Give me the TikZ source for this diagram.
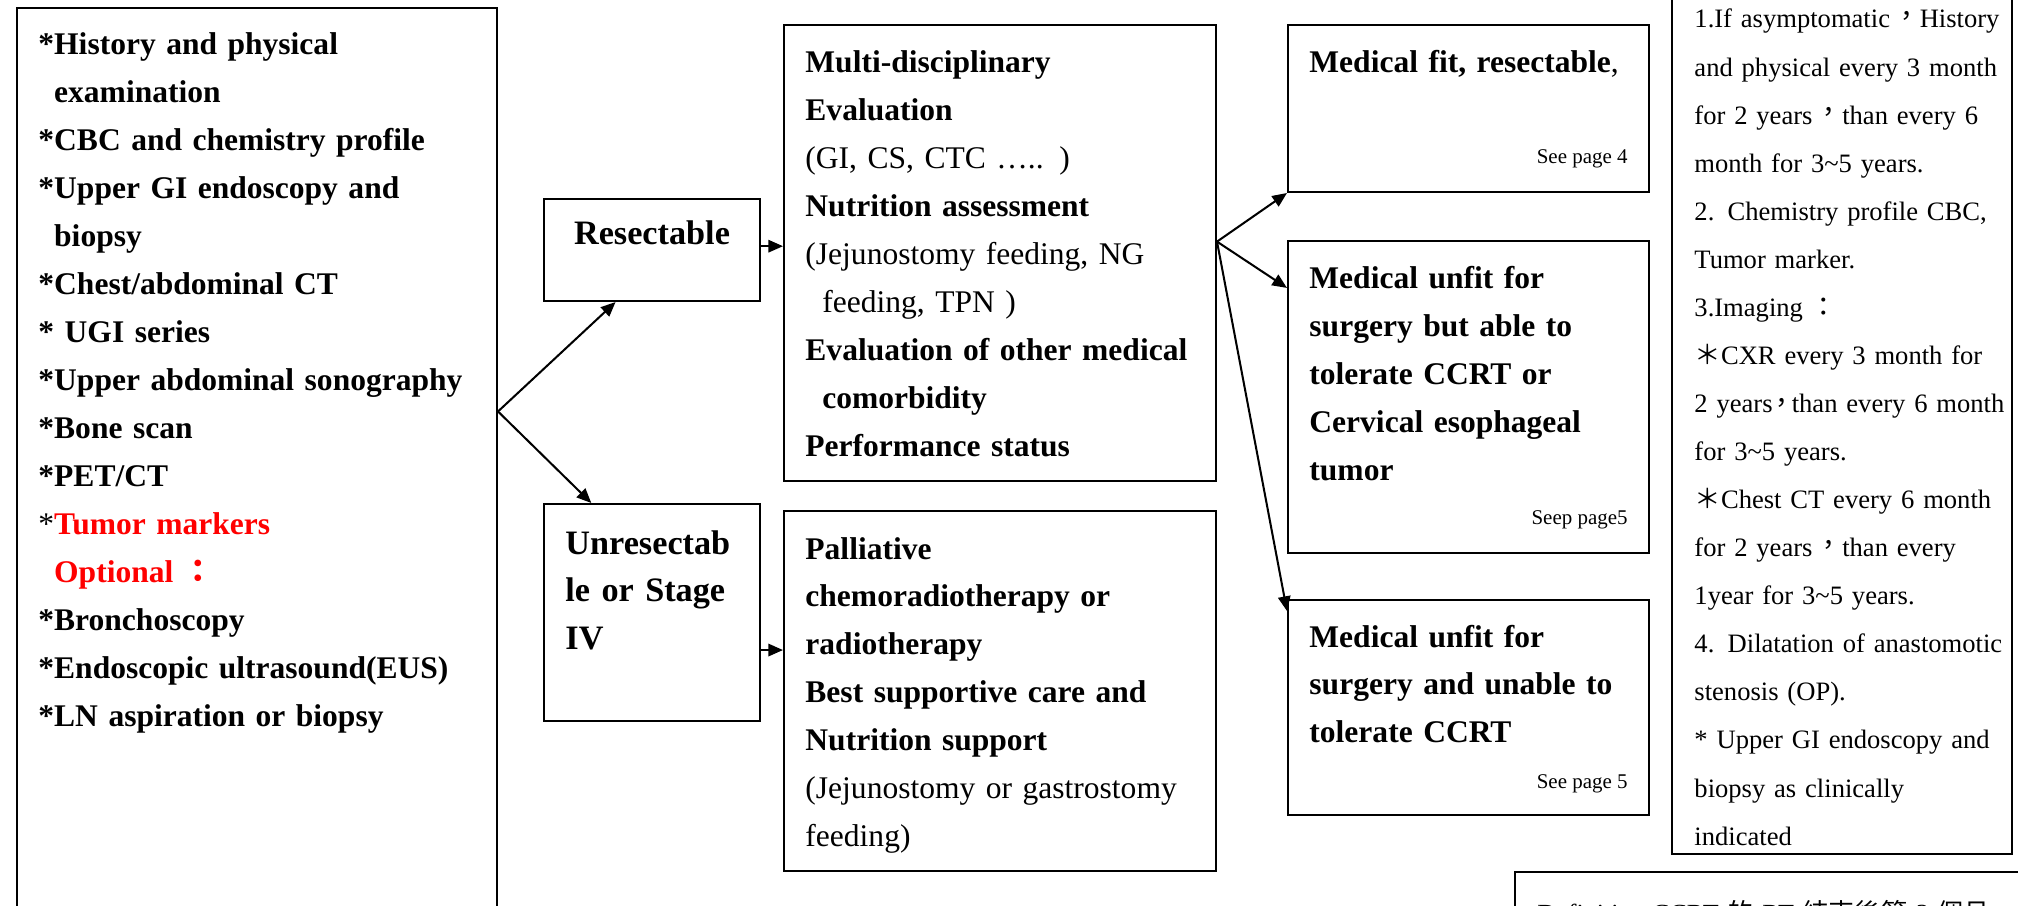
\documentclass[tikz,border=0pt]{standalone}
\usepackage{fontspec}
\setmainfont{Liberation Serif}
\newfontfamily\cjk{Noto Sans CJK TC}
\usepackage{tikz}
\usepackage{xcolor}
\usetikzlibrary{arrows.meta,fit}
\newcommand{\zhcomma}{\hspace*{0.12em}\raisebox{0.1em}{\cjk ，}}
\newcommand{\zhcolon}{\hspace*{0.3em}{\cjk ：}}
\tikzstyle{boxes} = [rectangle, draw=black, line width=0.9pt, inner sep=0pt]
\tikzstyle{arrow} = [line width=0.9pt, -{Triangle[length=6.5pt,width=5.5pt]}]
\tikzstyle{txt} = [anchor=base west, inner sep=0pt, align=left, font={\fontsize{14pt}{21.3pt}\selectfont}]
\tikzstyle{txtb} = [txt, font={\fontsize{14pt}{21.3pt}\selectfont\bfseries}]
\tikzstyle{big} = [txt, font={\fontsize{15.2pt}{21.3pt}\selectfont\bfseries}]
\tikzstyle{note} = [txt, font={\fontsize{11.8pt}{21.34pt}\selectfont}]
\tikzstyle{page} = [anchor=base east, inner sep=0pt, font={\fontsize{9.3pt}{11pt}\selectfont}]

\begin{document}
\begin{tikzpicture}[x=0.444pt, y=-0.444pt]
        \useasboundingbox (0,0) rectangle (2018,906);
        \clip (0,0) rectangle (2018,906);

        \node[boxes, fit={(17,8) (497,1000)}] (exam) {};
        \node[boxes, fit={(544,199) (760,301)}] (resect) {};
        \node[boxes, fit={(544,504) (760,721)}] (unres) {};
        \node[boxes, fit={(784,25) (1216,481)}] (multi) {};
        \node[boxes, fit={(784,511) (1216,871)}] (pall) {};
        \node[boxes, fit={(1288,25) (1649,192)}] (fit1) {};
        \node[boxes, fit={(1288,241) (1649,553)}] (fit2) {};
        \node[boxes, fit={(1288,600) (1649,815)}] (fit3) {};
        \node[boxes, fit={(1672,-20) (2012,854)}] (follow) {};
        \node[boxes, fit={(1515,872) (2100,1000)}] (ccrt) {};

        \node[txtb, text width=220pt] (examtxt) at (38,55) {*History and physical\\
        \phantom{*}examination\\
        {}*CBC and chemistry profile\\
        {}*Upper GI endoscopy and\\
        \phantom{*}biopsy\\
        {}*Chest/abdominal CT\\
        {}* UGI series\\
        {}*Upper abdominal sonography\\
        {}*Bone scan\\
        {}*PET/CT\\
        {\mdseries *}\textcolor{red}{Tumor markers}\\
        \phantom{*}\textcolor{red}{Optional\zhcolon}\\
        {}*Bronchoscopy\\
        {}*Endoscopic ultrasound(EUS)\\
        {}*LN aspiration or biopsy};

        \node[big, anchor=base] (resecttxt) at (652,245) {Resectable};
        \node[big, text width=100pt] (unrestxt) at (565,554) {Unresectab\\le or Stage\\IV};

        \node[txt, text width=200pt] (multitxt) at (805,73) {\textbf{Multi-disciplinary}\\
        \textbf{Evaluation}\\
        (GI, CS, CTC ….. )\\
        \textbf{Nutrition assessment}\\
        (Jejunostomy feeding, NG\\
        \hspace*{7.5pt}feeding, TPN )\\
        \textbf{Evaluation of other medical}\\
        \hspace*{7.5pt}\textbf{comorbidity}\\
        \textbf{Performance status}};

        \node[txt, text width=200pt] (palltxt) at (805,559) {\textbf{Palliative}\\
        \textbf{chemoradiotherapy or}\\
        \textbf{radiotherapy}\\
        \textbf{Best supportive care and}\\
        \textbf{Nutrition support}\\
        (Jejunostomy or gastrostomy\\
        feeding)};

        \node[txt, text width=160pt] (fit1txt) at (1309,73) {\textbf{Medical fit, resectable},};
        \node[page] (fit1page) at (1628,164) {See page 4};
        \node[txtb, text width=160pt] (fit2txt) at (1309,289) {Medical unfit for\\
        surgery but able to\\
        tolerate CCRT or\\
        Cervical esophageal\\
        tumor};
        \node[page] (fit2page) at (1628,524) {Seep page5};
        \node[txtb, text width=160pt] (fit3txt) at (1309,647) {Medical unfit for\\
        surgery and unable to\\
        tolerate CCRT};
        \node[page] (fit3page) at (1628,788) {See page 5};

        \node[note, text width=150pt] (followtxt) at (1694,28) {1.If asymptomatic\zhcomma History\\
        and physical every 3 month\\
        for 2 years\zhcomma than every 6\\
        month for 3\textasciitilde5 years.\\
        2. Chemistry profile CBC,\\
        Tumor marker.\\
        3.Imaging\zhcolon\\
        {\cjk ＊}CXR every 3 month for\\
        2 years\makebox[0.72em]{\cjk ，}than every 6 month\\
        for 3\textasciitilde5 years.\\
        {\cjk ＊}Chest CT every 6 month\\
        for 2 years\zhcomma than every\\
        1year for 3\textasciitilde5 years.\\
        4. Dilatation of anastomotic\\
        stenosis (OP).\\
        {}* Upper GI endoscopy and\\
        biopsy as clinically\\
        indicated};

        \node[note, text width=240pt, font={\fontsize{11.6pt}{14pt}\selectfont}] (ccrttxt) at (1537,922) {Definitive CCRT {\cjk 的} RT {\cjk 結束後第} 3 {\cjk 個月}};

        \draw[arrow] (exam.21) -- (resect.235);
        \draw[arrow] (exam.21) -- (unres.119);
        \draw[arrow] (resect.2) -- (resect.2 -| multi.west);
        \draw[arrow] (unres.-19) -- (unres.-19 -| pall.west);
        \draw[arrow] (multi.3) -- (fit1.south west);
        \draw[arrow] (multi.3) -- (fit2.149);
        \draw[arrow] (multi.3) -- (fit3.152);
    \end{tikzpicture}
\end{document}
